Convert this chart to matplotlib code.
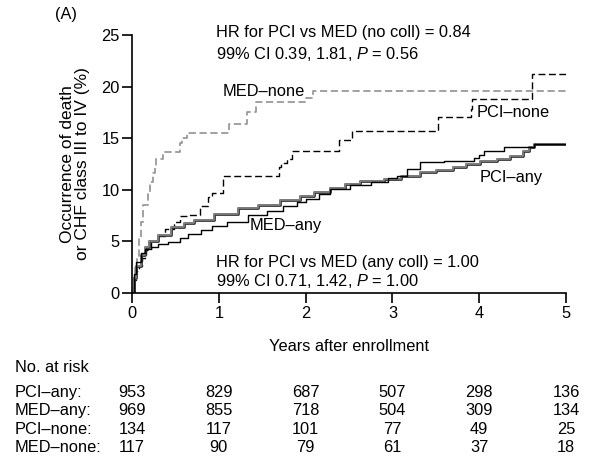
import matplotlib
matplotlib.use("Agg")
import matplotlib.pyplot as plt
import matplotlib.patheffects as pe
from matplotlib.transforms import blended_transform_factory

plt.rcParams["font.family"] = ["Liberation Sans", "DejaVu Sans"]
plt.rcParams["mathtext.fontset"] = "custom"
plt.rcParams["mathtext.it"] = "Liberation Sans:italic"
plt.rcParams["mathtext.rm"] = "Liberation Sans"

# Kaplan-Meier style step curves (years, % with event)
med_none_t = [0, 0.01, 0.02, 0.04, 0.06, 0.08, 0.10, 0.127, 0.19, 0.21, 0.24, 0.26,
              0.28, 0.36, 0.55, 0.58, 0.63, 1.12, 1.33, 1.43, 2.0, 2.08, 5.0]
med_none_y = [0, 0.9, 1.8, 2.6, 3.5, 5.2, 6.9, 8.5, 9.6, 10.8, 11.6, 12.3,
              13.0, 13.7, 14.5, 15.0, 15.5, 16.4, 17.5, 18.5, 18.9, 19.6, 19.6]

pci_none_t = [0, 0.02, 0.05, 0.08, 0.12, 0.16, 0.22, 0.30, 0.38, 0.48, 0.55, 0.66,
              0.78, 0.88, 0.92, 1.05, 1.69, 1.72, 1.78, 1.84, 2.38, 2.53, 3.53,
              3.90, 3.92, 4.61, 5.0]
pci_none_y = [0, 1.3, 2.1, 2.6, 3.4, 4.2, 5.0, 5.5, 6.2, 6.9, 7.5, 7.6,
              8.4, 9.3, 9.7, 11.35, 12.2, 12.6, 13.0, 13.8, 14.8, 15.7, 17.1,
              17.8, 18.75, 21.2, 21.2]

med_any_t = [0, 0.02, 0.05, 0.10, 0.15, 0.20, 0.30, 0.45, 0.60, 0.72, 0.95, 1.22,
             1.45, 1.70, 1.94, 2.10, 2.28, 2.45, 2.63, 2.90, 3.10, 3.32, 3.50,
             3.70, 3.85, 4.01, 4.20, 4.36, 4.51, 4.57, 4.63, 5.0]
med_any_y = [0, 1.5, 2.6, 3.7, 4.5, 5.0, 5.6, 6.4, 6.8, 7.1, 7.7, 8.2,
             8.5, 9.0, 9.4, 9.8, 10.2, 10.6, 10.9, 11.0, 11.3, 11.7, 11.9,
             12.2, 12.5, 12.8, 13.0, 13.3, 13.8, 14.1, 14.4, 14.4]

pci_any_t = [0, 0.02, 0.05, 0.10, 0.15, 0.22, 0.30, 0.42, 0.55, 0.65, 0.80, 0.92,
             1.10, 1.34, 1.55, 1.74, 1.90, 2.01, 2.15, 2.28, 2.51, 2.75, 2.95,
             3.05, 3.17, 3.32, 3.60, 3.94, 4.00, 4.05, 4.28, 4.63, 5.0]
pci_any_y = [0, 1.8, 3.0, 3.9, 4.3, 4.5, 4.7, 4.9, 5.3, 5.7, 6.1, 6.5,
             6.9, 7.6, 7.9, 8.4, 8.8, 9.1, 9.6, 10.05, 10.5, 10.8, 11.1,
             11.35, 12.0, 12.65, 12.8, 13.1, 13.4, 13.8, 14.1, 14.4, 14.4]

risk_times = [0, 1, 2, 3, 4, 5]
risk_labels = ["PCI\u2013any:", "MED\u2013any:", "PCI\u2013none:", "MED\u2013none:"]
risk_pci_any = [953, 829, 687, 507, 298, 136]
risk_med_any = [969, 855, 718, 504, 309, 134]
risk_pci_none = [134, 117, 101, 77, 49, 25]
risk_med_none = [117, 90, 79, 61, 37, 18]

fs = 11.8

fig = plt.figure(figsize=(6.01, 4.65), dpi=100)
ax = fig.add_axes([132 / 601, 1 - 293 / 465, (566 - 132) / 601, (293 - 35) / 465])

ax.step(med_none_t, med_none_y, where="post", color="#9a9a9a", lw=1.3,
        linestyle=(0, (4, 2)))
ax.step(pci_none_t, pci_none_y, where="post", color="black", lw=1.0,
        linestyle=(0, (5, 2.5)))
ax.step(med_any_t, med_any_y, where="post", color="#8c8c8c", lw=1.1,
        path_effects=[pe.Stroke(linewidth=2.0, foreground="#333333"), pe.Normal()])
ax.step(pci_any_t, pci_any_y, where="post", color="black", lw=1.0)

ax.set_xlim(0, 5)
ax.set_ylim(0, 25)
ax.set_xticks([0, 1, 2, 3, 4, 5])
ax.set_yticks([0, 5, 10, 15, 20, 25])
ax.spines["top"].set_visible(False)
ax.spines["right"].set_visible(False)
for s in ("left", "bottom"):
    ax.spines[s].set_linewidth(1.2)
ax.tick_params(direction="out", length=7, width=1.2, labelsize=fs, pad=2)
ax.set_xlabel("Years after enrollment", fontsize=fs, labelpad=13)
ax.set_ylabel("Occurrence of death\nor CHF class III to IV (%)", fontsize=12.5,
              labelpad=8, linespacing=1.0)

ax.text(0.97, 25.2, "HR for PCI vs MED (no coll) = 0.84", fontsize=fs, va="center")
ax.text(0.97, 23.2, "99% CI 0.39, 1.81, $\\mathit{P}$ = 0.56", fontsize=fs, va="center")
ax.text(0.97, 3.0, "HR for PCI vs MED (any coll) = 1.00", fontsize=fs, va="center")
ax.text(0.97, 1.2, "99% CI 0.71, 1.42, $\\mathit{P}$ = 1.00", fontsize=fs, va="center")
ax.text(1.04, 19.5, "MED\u2013none", fontsize=fs, va="center")
ax.text(3.97, 17.5, "PCI\u2013none", fontsize=fs, va="center")
ax.text(4.01, 11.2, "PCI\u2013any", fontsize=fs, va="center")
ax.text(1.36, 6.5, "MED\u2013any", fontsize=fs, va="center")

fig.text(55 / 601, 1 - 14 / 465, "(A)", fontsize=fs, va="center")

# number at risk table
fig.text(15 / 601, 1 - 367 / 465, "No. at risk", fontsize=fs, va="center")
tr = blended_transform_factory(ax.transData, fig.transFigure)
rows = [risk_pci_any, risk_med_any, risk_pci_none, risk_med_none]
row_y = [392, 410, 429, 447]
for lab, vals, py in zip(risk_labels, rows, row_y):
    fig.text(15 / 601, 1 - py / 465, lab, fontsize=fs, va="center")
    for t, v in zip(risk_times, vals):
        ax.text(t, 1 - py / 465, str(v), transform=tr, fontsize=fs,
                ha="center", va="center", clip_on=False)

fig.savefig("out.png", dpi=100)
